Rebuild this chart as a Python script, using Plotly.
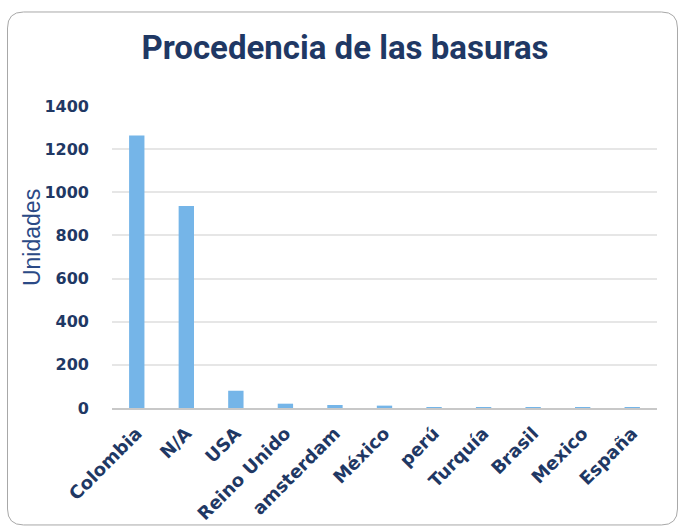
import plotly.graph_objects as go

# Origen de los residuos recogidos
paises = ["Colombia", "N/A", "USA", "Reino Unido", "amsterdam", "México",
          "perú", "Turquía", "Brasil", "Mexico", "España"]
unidades = [1263, 936, 80, 20, 14, 11, 2, 1, 1, 1, 1]

y_ticks = [0, 200, 400, 600, 800, 1000, 1200, 1400]

W, H = 679, 529
L, R, T, B = 112, 22, 105.7, 120.7
pw, ph = W - L - R, H - T - B

NAVY = "#1F3864"
BAR = "#75B5E8"


def px_x(x):
    return (x - L) / pw


def px_y(y):
    return (H - B - y) / ph


fig = go.Figure(
    go.Bar(x=paises, y=unidades, marker_color=BAR, marker_line_width=0)
)

# Marco redondeado alrededor del gráfico
x0, x1, y0, y1, r = 7.5, 677.5, 11.5, 525.5, 16
pts = [
    ("M", x0 + r, y0), ("L", x1 - r, y0), ("Q", x1, y0, x1, y0 + r),
    ("L", x1, y1 - r), ("Q", x1, y1, x1 - r, y1), ("L", x0 + r, y1),
    ("Q", x0, y1, x0, y1 - r), ("L", x0, y0 + r), ("Q", x0, y0, x0 + r, y0),
]
path = ""
for p in pts:
    cmd, coords = p[0], p[1:]
    vals = []
    for i in range(0, len(coords), 2):
        vals.append(f"{px_x(coords[i]):.5f},{px_y(coords[i + 1]):.5f}")
    path += cmd + " ".join(vals) + " "
path += "Z"

fig.add_shape(type="path", path=path, xref="paper", yref="paper",
              line=dict(color="#A8A8A8", width=1), fillcolor="rgba(0,0,0,0)",
              layer="below")

fig.add_annotation(
    text="Unidades", textangle=-90, showarrow=False,
    xref="paper", yref="paper", x=px_x(32), y=px_y(238),
    xanchor="center", yanchor="middle",
    font=dict(family="Liberation Sans, Arial, sans-serif", size=23, color="#2B4A86"),
)

fig.update_layout(
    width=W, height=H,
    margin=dict(l=L, r=R, t=T, b=B, autoexpand=False),
    paper_bgcolor="white", plot_bgcolor="white",
    showlegend=False,
    bargap=0.69,
    title=dict(
        text="<b>Procedencia de las basuras</b>",
        x=345 / W, xref="container", xanchor="center",
        y=1 - 47 / H, yanchor="middle",
        font=dict(family="Roboto, sans-serif", size=33, color=NAVY),
    ),
    xaxis=dict(
        tickangle=-45, showgrid=False,
        showline=True, linecolor="#C8C8C8", linewidth=1.5,
        ticks="", ticklabelstandoff=6,
        tickfont=dict(family="DejaVu Sans, sans-serif", size=18, color=NAVY,
                      weight="bold"),
        automargin=False,
    ),
    yaxis=dict(
        range=[0, 1400], tickvals=y_ticks,
        showgrid=True, gridcolor="#E6E6E6", gridwidth=1.5,
        zeroline=False, showline=False, ticks="",
        ticklabelstandoff=22,
        tickfont=dict(family="DejaVu Sans, sans-serif", size=16, color=NAVY,
                      weight="bold"),
        automargin=False,
    ),
)

fig.write_html("out.html")
